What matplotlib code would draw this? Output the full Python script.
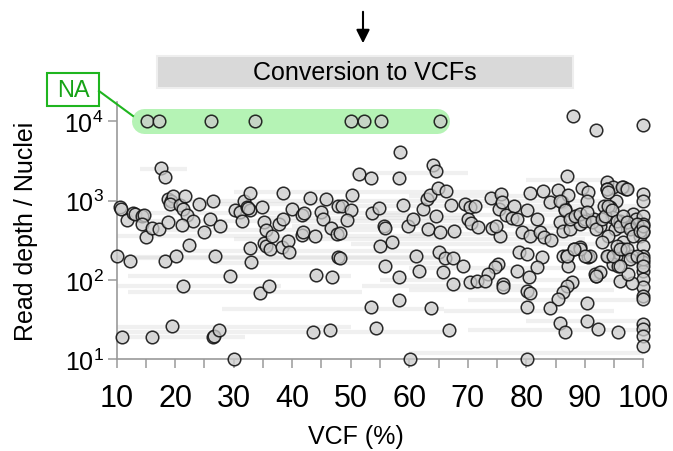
import numpy as np
import matplotlib
matplotlib.use('Agg')
import matplotlib.pyplot as plt
from matplotlib.patches import Rectangle, FancyArrowPatch
from matplotlib.lines import Line2D
from matplotlib.ticker import NullLocator, NullFormatter

plt.rcParams['font.family'] = ['Liberation Sans', 'DejaVu Sans']
plt.rcParams['mathtext.fontset'] = 'custom'
plt.rcParams['mathtext.rm'] = 'Liberation Sans'
plt.rcParams['mathtext.it'] = 'Liberation Sans:italic'

# VCF (%) and read depth per nucleus, split by VCF range
low_vcf = [
    17.6, 18.2, 10.5, 10.7, 11.7, 12.8, 13.1, 14.3, 14.7, 14.4,
    15.0, 16.1, 17.2, 10.1, 12.3, 10.9, 16.0, 18.7, 19.3, 19.7,
    19.1, 20.8, 21.6, 21.3, 22.0, 23.1, 21.2, 18.7, 18.2, 20.2,
    21.3, 22.3, 19.4, 24.1, 26.4, 26.0, 27.7, 25.0, 26.8, 29.4,
    26.4, 26.6, 27.5, 30.1, 30.3, 31.0, 31.7, 32.2, 31.5, 32.7,
    32.8, 32.5, 34.9, 35.1, 35.5, 35.2, 35.6, 36.6, 36.2, 32.9,
    32.7, 34.5, 36.1, 38.4, 40.0, 37.8, 38.5, 38.2, 39.2, 39.4,
    41.6, 42.0, 41.7, 41.8, 43.0, 43.9, 44.9, 45.2, 45.8, 46.6,
    47.6, 47.9, 47.9, 44.1, 46.8, 43.6, 46.4,
]
low_depth = [
    2570, 2000, 825, 775, 570, 700, 670, 640, 650, 510,
    350, 450, 440, 198, 175, 18.8, 18.8, 1050, 1000, 1130,
    910, 880, 1130, 785, 650, 560, 490, 535, 175, 198,
    84, 277, 26, 910, 980, 585, 475, 400, 202, 113,
    18.8, 19.7, 23, 10, 750, 715, 975, 825, 545, 1240,
    750, 800, 820, 535, 420, 292, 270, 360, 246, 167,
    250, 68, 84, 1250, 785, 510, 585, 258, 313, 224,
    650, 700, 370, 400, 1080, 360, 715, 585, 1050, 450,
    380, 850, 192, 115, 107, 22, 23,
]

mid_vcf = [
    58.4, 64.1, 64.5, 51.4, 53.5, 58.2, 50.3, 48.5, 50.0, 49.3,
    53.7, 54.8, 48.2, 55.6, 55.8, 55.0, 57.0, 58.9, 59.7, 60.7,
    48.2, 55.9, 58.3, 61.2, 61.6, 58.2, 53.4, 54.3, 60.1, 63.8,
    62.4, 63.0, 63.6, 64.9, 66.3, 64.6, 63.2, 65.2, 67.7, 67.1,
    65.0, 66.1, 67.4, 65.8, 67.5, 69.2, 70.3, 66.8, 69.5, 70.4,
    71.2, 70.0, 70.5, 71.8, 71.5,
]
mid_depth = [
    4080, 2820, 2350, 2170, 1910, 1950, 1160, 865, 760, 570,
    700, 810, 390, 474, 452, 270, 298, 880, 483, 585,
    190, 148, 110, 198, 128, 55, 45, 24.6, 10, 44,
    785, 1050, 1180, 1430, 1340, 645, 438, 405, 418, 880,
    222, 189, 187, 127, 88, 151, 95, 23.5, 910, 825,
    865, 585, 522, 465, 97,
]

high_vcf = [
    73.9, 75.6, 75.3, 75.8, 76.6, 77.9, 74.2, 75.5, 74.8, 77.5,
    78.4, 80.1, 79.2, 80.6, 80.6, 81.9, 82.3, 82.9, 84.1, 83.1,
    84.3, 85.5, 86.1, 87.0, 86.6, 87.2, 85.8, 86.3, 87.5, 88.6,
    89.5, 90.6, 90.3, 89.2, 90.0, 91.5, 92.6, 93.8, 93.8, 94.9,
    96.6, 97.1, 95.4, 94.3, 93.2, 94.6, 96.0, 98.3, 98.8, 97.7,
    100, 100, 100, 100, 100, 99.4, 100, 95.2, 94.0, 92.9,
    96.6, 95.4, 96.6, 98.0, 100, 100, 100, 100, 100, 100,
    100, 78.7, 80.1, 82.7, 81.8, 80.4, 80.1, 80.6, 78.4, 75.2,
    74.6, 73.5, 72.9, 76.0, 76.1, 86.3, 87.0, 87.2, 88.1, 89.2,
    90.6, 90.9, 94.0, 94.9, 95.7, 92.0, 91.8, 96.0, 98.0, 97.4,
    87.8, 86.9, 86.3, 85.5, 84.1, 80.1, 90.3, 90.3, 85.8, 86.6,
    92.3, 95.6, 100, 100, 100, 100, 80.1, 88.0, 92.0, 100,
]
high_depth = [
    1080, 1210, 785, 955, 660, 865, 447, 361, 483, 600,
    585, 750, 398, 1250, 361, 585, 405, 1340, 955, 344,
    322, 1360, 955, 2070, 785, 1180, 543, 418, 438, 645,
    1450, 1270, 1000, 507, 585, 585, 483, 1700, 1400, 1480,
    1480, 1400, 1000, 825, 865, 615, 560, 680, 585, 460,
    1210, 1000, 645, 507, 418, 361, 270, 438, 361, 298,
    298, 202, 245, 202, 202, 167, 131, 102, 80, 63,
    57, 222, 212, 192, 144, 107, 73, 68, 131, 159,
    147, 118, 97, 88, 80, 202, 198, 151, 245, 258,
    192, 198, 202, 159, 151, 113, 118, 97, 91, 118,
    95, 84, 70, 58, 44, 45, 51, 30, 28.5, 21.7,
    24, 21.7, 27.7, 24, 19.7, 14.7, 10, 11700, 7900, 9000,
]

dense_vcf = [
    85.8, 86.6, 87.5, 88.4, 89.2, 89.8, 90.3, 91.2, 92.0, 92.9,
    93.5, 94.0, 94.6, 95.5, 96.0, 96.6, 97.2, 97.7, 98.3, 98.9,
    99.4, 100, 100, 93.8, 94.0, 96.3, 97.2, 89.2, 90.1, 93.8,
    94.9, 95.5, 96.0, 97.2, 97.7, 98.9, 100, 100, 92.6, 92.0,
    96.0, 86.9, 88.1,
]
dense_depth = [
    1000, 750, 587, 646, 680, 560, 713, 532, 438, 587,
    646, 865, 750, 560, 483, 646, 532, 438, 361, 507,
    417, 483, 398, 1400, 1270, 1470, 1400, 245, 202, 202,
    202, 270, 245, 245, 183, 202, 183, 151, 124, 113,
    151, 202, 245,
]

# variants without read depth (NA), drawn at 10^4
na_vcf = [15.1, 17.2, 26.1, 33.6, 50.1, 52.3, 55.1, 65.2]
na_level = 1e4

# faint horizontal ranges behind the points
seg_depth = [1300, 1000, 850, 700, 650, 550, 480, 420, 380, 357,
             330, 280, 230, 194, 190, 165, 140, 112, 100, 83,
             75, 70, 55, 43, 40, 25.4, 22, 23, 19, 30,
             12, 2500, 2200, 1800, 900, 1150, 750, 600, 450, 84]
seg_lo = [30, 20, 45, 10, 55, 12, 40, 15, 60, 10,
          30, 50, 20, 10, 10, 27, 60, 12, 55, 10,
          60, 12, 70, 28, 66, 10, 10, 70, 10, 80,
          60, 14, 50, 80, 25, 60, 75, 35, 80, 52]
seg_hi = [75, 95, 100, 60, 100, 70, 100, 55, 100, 66,
          90, 100, 80, 66, 66, 66, 100, 50, 100, 38,
          95, 52, 100, 66, 95, 50, 66, 100, 32, 100,
          100, 22, 70, 95, 45, 85, 100, 70, 100, 81]

W, H = 673, 452


def fx(x):
    return x / W


def fy(y):
    return 1 - y / H


fig = plt.figure(figsize=(6.73, 4.52), dpi=100)
ax = fig.add_axes([fx(116.7), fy(360), (643.3 - 116.7) / W, (360 - 103) / H])

for d, lo, hi in zip(seg_depth, seg_lo, seg_hi):
    ax.plot([lo, hi], [d, d], color='#cfcfcf', lw=3, alpha=0.3,
            solid_capstyle='butt', zorder=1)

ax.plot([14.6, 64.7], [na_level, na_level], lw=18, color='#b5f3b5',
        solid_capstyle='round', zorder=2, clip_on=False)

all_vcf = low_vcf + mid_vcf + high_vcf + dense_vcf + na_vcf
all_depth = low_depth + mid_depth + high_depth + dense_depth + [na_level] * len(na_vcf)
ax.scatter(all_vcf, all_depth, s=82, facecolor=(0.8, 0.8, 0.8, 0.75),
           edgecolor=(0.08, 0.08, 0.08, 0.9), linewidth=1.1, zorder=3, clip_on=False)

ax.set_yscale('log')
ax.set_xlim(10, 100)
ax.set_ylim(10, 10 ** 4.245)
for s in ['top', 'right']:
    ax.spines[s].set_visible(False)
for s in ['left', 'bottom']:
    ax.spines[s].set_color('#9a9a9a')
    ax.spines[s].set_linewidth(1.2)

ax.set_xticks(np.arange(10, 101, 10))
ax.set_xticks(np.arange(15, 100, 10), minor=True)
ax.xaxis.set_minor_formatter(NullFormatter())
ax.set_yticks([10, 100, 1000, 10000])
ax.set_yticklabels(['10$^{1}$', '10$^{2}$', '10$^{3}$', '10$^{4}$'])
ax.yaxis.set_minor_locator(NullLocator())
ax.tick_params(axis='both', which='both', direction='out', length=6.5,
               width=1.1, color='#9a9a9a')
ax.tick_params(axis='x', labelsize=22, pad=11)
ax.tick_params(axis='y', labelsize=18, pad=3)

fig.text(fx(356), fy(437), 'VCF (%)', fontsize=18, ha='center', va='center')
fig.text(fx(26), fy(231), 'Read depth / Nuclei', fontsize=18, rotation=90,
         ha='center', va='center')

# "Conversion to VCFs" banner and arrow
fig.patches.append(Rectangle((fx(157), fy(89)), 416 / W, 32 / H, transform=fig.transFigure,
                             facecolor='#d9d9d9', edgecolor='#eeeeee', lw=1.5))
fig.text(fx(365), fy(73), 'Conversion to VCFs', fontsize=18, ha='center', va='center')
fig.patches.append(FancyArrowPatch((fx(363), fy(10)), (fx(363), fy(47)),
                                   transform=fig.transFigure, arrowstyle='-|>',
                                   mutation_scale=20, color='black', lw=1.5))

# NA label
green = '#1fb51f'
fig.patches.append(Rectangle((fx(47), fy(107)), 52 / W, 33 / H, transform=fig.transFigure,
                             facecolor='white', edgecolor=green, lw=1.5))
fig.text(fx(73), fy(91), 'NA', fontsize=17, color='#16a316', ha='center', va='center')
fig.lines.append(Line2D([fx(99), fx(133)], [fy(92), fy(117)], transform=fig.transFigure,
                        color=green, lw=1.5))

fig.savefig('out.png', dpi=100)
